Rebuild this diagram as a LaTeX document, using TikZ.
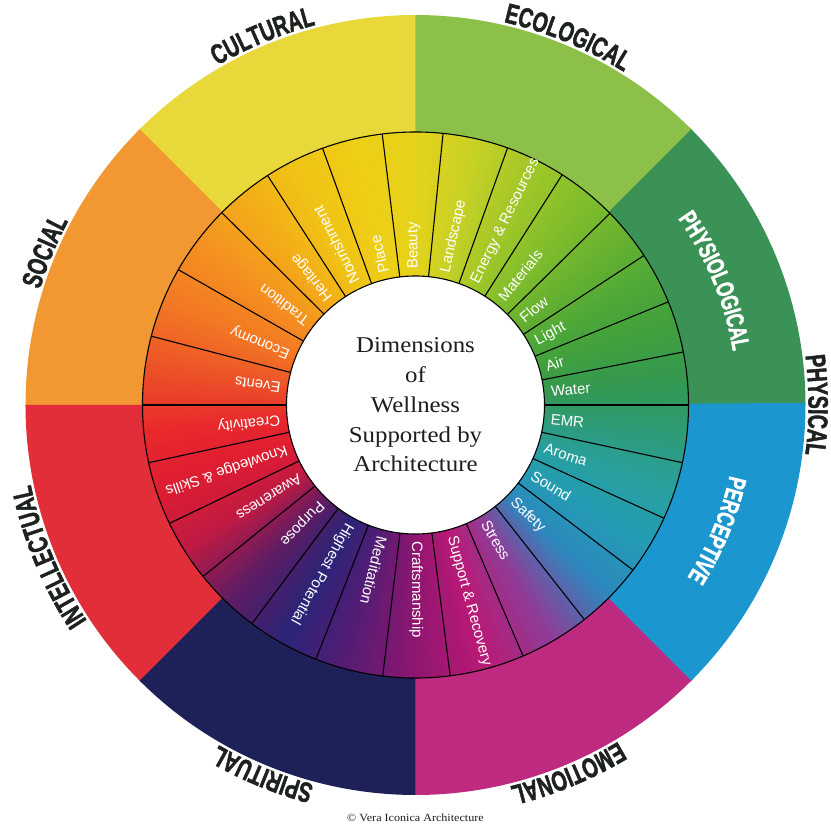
\documentclass[tikz,border=0pt]{standalone}
\usepackage{fontspec}
\usetikzlibrary{decorations.text}

\newfontfamily\segfont{Liberation Sans}
\newfontfamily\dimfont{Liberation Sans}[FakeStretch=0.7, FakeBold=1.6]
\newfontfamily\titlefont{Liberation Serif}[FakeStretch=1.1]
\newcommand\dimfontbig{\dimfont\bfseries\fontsize{28pt}{32pt}\selectfont}
\newcommand\dimfontsmall{\dimfont\bfseries\fontsize{25pt}{29pt}\selectfont}

% colours of the eight outer dimensions
\definecolor{cultC}{RGB}{233,216,58}
\definecolor{ecoC}{RGB}{140,192,72}
\definecolor{physC}{RGB}{58,146,86}
\definecolor{percC}{RGB}{28,150,206}
\definecolor{emoC}{RGB}{190,42,128}
\definecolor{spirC}{RGB}{30,32,88}
\definecolor{intC}{RGB}{226,46,56}
\definecolor{socC}{RGB}{242,152,50}
\definecolor{inkC}{RGB}{30,34,30}
\definecolor{titleC}{RGB}{30,30,30}

% key colours of the inner ring, one per segment
\definecolor{kWater}{RGB}{52,152,80}
\definecolor{kAir}{RGB}{64,160,62}
\definecolor{kLight}{RGB}{78,168,55}
\definecolor{kFlow}{RGB}{104,178,48}
\definecolor{kMat}{RGB}{130,190,44}
\definecolor{kEnergy}{RGB}{162,199,40}
\definecolor{kLand}{RGB}{200,209,38}
\definecolor{kBeauty}{RGB}{230,211,26}
\definecolor{kPlace}{RGB}{238,206,22}
\definecolor{kNour}{RGB}{241,196,22}
\definecolor{kHer}{RGB}{243,174,24}
\definecolor{kTrad}{RGB}{244,146,32}
\definecolor{kEcon}{RGB}{243,120,36}
\definecolor{kEvents}{RGB}{236,80,40}
\definecolor{kCreat}{RGB}{232,40,45}
\definecolor{kKnow}{RGB}{222,28,50}
\definecolor{kAware}{RGB}{190,26,68}
\definecolor{kPurp}{RGB}{96,28,98}
\definecolor{kHigh}{RGB}{42,36,120}
\definecolor{kMedi}{RGB}{88,28,116}
\definecolor{kCraft}{RGB}{144,22,112}
\definecolor{kSupp}{RGB}{186,26,118}
\definecolor{kStress}{RGB}{140,62,152}
\definecolor{kSafety}{RGB}{44,136,190}
\definecolor{kSound}{RGB}{36,156,180}
\definecolor{kAroma}{RGB}{40,160,158}
\definecolor{kEMR}{RGB}{46,155,118}

% curved dimension name, clockwise, letters facing outwards
\newcommand\dimlabel[4]{%
  \path[decorate, decoration={text along path, text align=center,
      text={|#3|#4}}]
    ({#1+40}:#2) arc[start angle={#1+40}, end angle={#1-40}, radius=#2];}

\tikzset{
  seglabel/.style={anchor=west, inner sep=0pt, text=white,
    font=\segfont\fontsize{15pt}{17pt}\selectfont},
  titlebox/.style={align=center, inner sep=0pt, text=titleC,
    font=\titlefont\fontsize{22.6pt}{29.75pt}\selectfont},
  creditbox/.style={inner sep=0pt, text=titleC,
    font=\titlefont\fontsize{11pt}{13pt}\selectfont},
  ringline/.style={line width=1.1pt, black}
}

\begin{document}
\begin{tikzpicture}[x=1pt, y=1pt]
\def\Rin{129}
\def\Rmid{273}
\def\Rout{390}
\fill[white] (-415.5,-419) rectangle (415.5,405);
\useasboundingbox (-415.5,-419) rectangle (415.5,405);

% outer sectors
\foreach \a/\c in {0/physC,45/ecoC,90/cultC,135/socC,180/intC,225/spirC,270/emoC,315/percC}{
  \fill[\c] (0,0) -- (\a:\Rout) arc[start angle=\a, end angle=\a+45.3, radius=\Rout] -- cycle;
}

% inner ring: colour blends between neighbouring segments
\foreach \a/\b/\ca/\cb in {
  5.6/16.7/kWater/kAir, 16.7/27.7/kAir/kLight, 27.7/38.9/kLight/kFlow,
  38.9/51.05/kFlow/kMat, 51.05/63.9/kMat/kEnergy, 63.9/77.25/kEnergy/kLand,
  77.25/90.6/kLand/kBeauty, 90.6/103.45/kBeauty/kPlace, 103.45/116.35/kPlace/kNour,
  116.35/129/kNour/kHer, 129/142.75/kHer/kTrad, 142.75/157.85/kTrad/kEcon,
  157.85/172.7/kEcon/kEvents, 172.7/186.1/kEvents/kCreat, 186.1/198.95/kCreat/kKnow,
  198.95/212.3/kKnow/kAware, 212.3/226.05/kAware/kPurp, 226.05/240.9/kPurp/kHigh,
  240.9/255.85/kHigh/kMedi, 255.85/270.2/kMedi/kCraft, 270.2/285.25/kCraft/kSupp,
  285.25/300.7/kSupp/kStress, 300.7/315.5/kStress/kSafety, 315.5/329.15/kSafety/kSound,
  329.15/341.65/kSound/kAroma, 341.65/353.9/kAroma/kEMR, 353.9/365.6/kEMR/kWater}{
  \foreach \k in {0,...,9}{
    \pgfmathsetmacro\s{\a+(\b-\a)*\k/10}
    \pgfmathsetmacro\e{\a+(\b-\a)*(\k+1)/10+0.3}
    \pgfmathtruncatemacro\p{100*(\k+0.5)/10}
    \fill[\cb!\p!\ca] (\s:\Rin) arc[start angle=\s, end angle=\e, radius=\Rin]
      -- (\e:\Rmid) arc[start angle=\e, end angle=\s, radius=\Rmid] -- cycle;
  }
}

% white hub
\fill[white] (0,0) circle[radius=\Rin];

% segment borders
\foreach \b in {0,11.2,22.2,33.2,44.6,57.5,70.3,84.2,97,109.9,122.8,135.2,150.3,
  165.4,180,192.2,205.7,218.9,233.2,248.6,263.1,277.3,293.2,308.2,322.8,335.5,347.8}{
  \draw[ringline] (\b:\Rin) -- (\b:\Rmid);
}
\draw[ringline] (0,0) circle[radius=\Rin];
\draw[ringline] (0,0) circle[radius=\Rmid];

% segment names, reading outwards
\foreach \m/\t [count=\i] in {
  5.6/Water, 16.7/Air, 27.7/Light, 38.9/Flow, 51.05/Materials,
  63.9/Energy \& Resources, 77.25/Landscape, 90.6/Beauty, 103.45/Place,
  116.35/Nourishment, 129/Heritage, 142.75/Tradition, 157.85/Economy,
  172.7/Events, 186.1/Creativity, 198.95/Knowledge \& Skills, 212.3/Awareness,
  226.05/Purpose, 240.9/Highest Potential, 255.85/Meditation,
  270.2/Craftsmanship, 285.25/Support \& Recovery, 300.7/Stress,
  315.5/Safety, 329.15/Sound, 341.65/Aroma, 353.9/EMR}{
  \node[seglabel, rotate=\m] (seg\i) at (\m:136) {\t};
}

% dimension names around the rim
\dimlabel{112.5}{393}{\dimfontbig\color{inkC}}{CULTURAL}
\dimlabel{67.5}{393}{\dimfontbig\color{inkC}}{ECOLOGICAL}
\dimlabel{0}{393}{\dimfontbig\color{inkC}}{PHYSICAL}
\dimlabel{292.5}{393}{\dimfontbig\color{inkC}}{EMOTIONAL}
\dimlabel{247.5}{393}{\dimfontbig\color{inkC}}{SPIRITUAL}
\dimlabel{202.5}{393}{\dimfontbig\color{inkC}}{INTELLECTUAL}
\dimlabel{157.5}{393}{\dimfontbig\color{inkC}}{SOCIAL}
\dimlabel{22.5}{322}{\dimfontsmall\color{white}}{PHYSIOLOGICAL}
\dimlabel{-22.5}{322}{\dimfontsmall\color{white}}{PERCEPTIVE}

% title in the hub and credit line
\node[titlebox] (title) at (0,0) {Dimensions\\of\\Wellness\\Supported by\\Architecture};
\node[creditbox] (credit) at (0,-413) {\textcopyright\ Vera Iconica Architecture};
\end{tikzpicture}
\end{document}
